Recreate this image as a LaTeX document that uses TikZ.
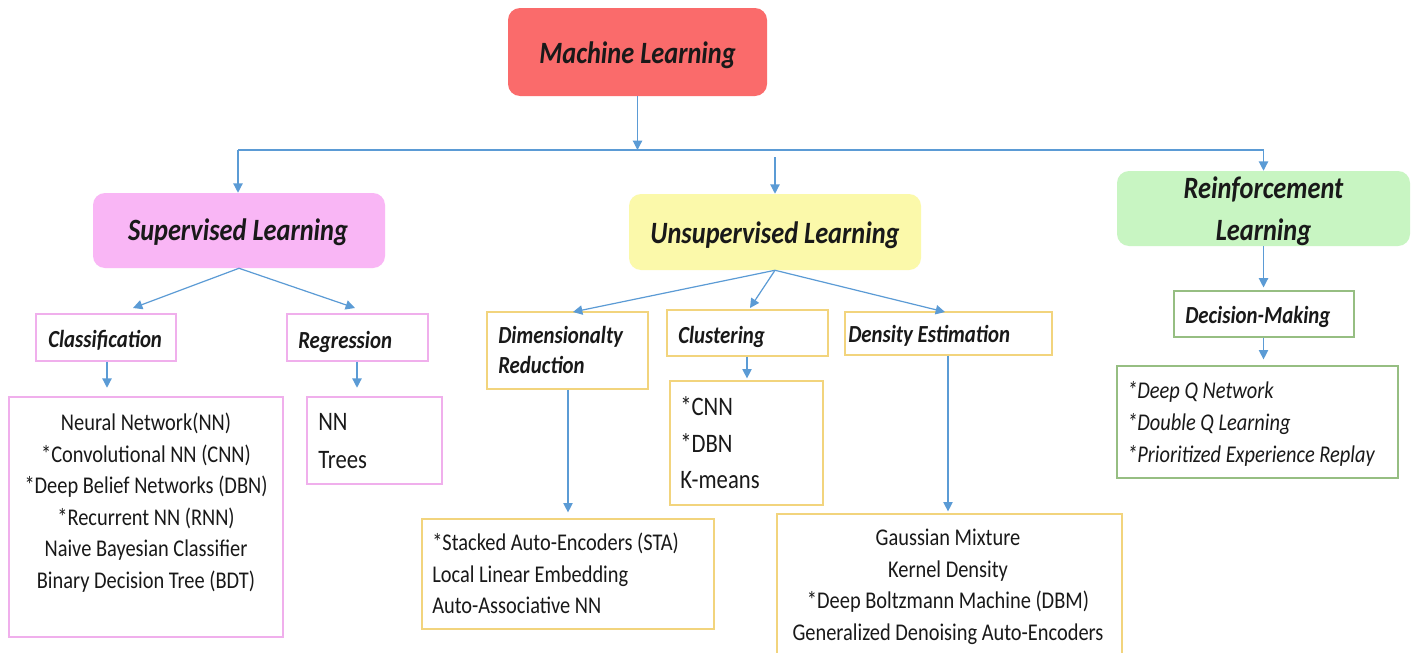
\documentclass[tikz,border=0pt]{standalone}
\usepackage{fontspec}
\setmainfont{Carlito}[FakeStretch=0.85]
\usetikzlibrary{arrows.meta,fit}
\newcommand{\myfs}[1]{\fontsize{#1}{#1}\selectfont}
\definecolor{arrc}{RGB}{91,155,213}
\definecolor{mlfill}{RGB}{250,107,107}
\definecolor{supfill}{RGB}{249,182,245}
\definecolor{unsfill}{RGB}{251,249,170}
\definecolor{rlfill}{RGB}{200,245,194}
\definecolor{supline}{RGB}{240,175,236}
\definecolor{unsline}{RGB}{242,212,125}
\definecolor{rlline}{RGB}{150,190,130}
\definecolor{txt}{RGB}{25,25,25}
\tikzset{
  arr/.style={draw=arrc, line width=0.9pt, -{Triangle[width=7pt,length=7pt]}},
  ln/.style={draw=arrc, line width=0.9pt},
  mainbox/.style={rounded corners=9pt, inner sep=0pt},
  hd/.style={inner sep=0pt, text=txt, font=\myfs{23.25}\bfseries\itshape, anchor=base},
  subbox/.style={draw, line width=0.9pt, inner sep=0pt, fill=white},
  ttl/.style={inner sep=0pt, text=txt, font=\myfs{18.4}\bfseries\itshape, anchor=base west},
  itm/.style={inner sep=0pt, text=txt, font=\myfs{18}, anchor=base},
  itml/.style={inner sep=0pt, text=txt, font=\myfs{18}, anchor=base west},
  itmb/.style={inner sep=0pt, text=txt, font=\myfs{20}, anchor=base west},
  itmi/.style={inner sep=0pt, text=txt, font=\myfs{18}\itshape, anchor=base west},
}
\begin{document}
\begin{tikzpicture}[x=0.75pt,y=-0.75pt]
\useasboundingbox (0,0) rectangle (1414,653);
\fill[white] (0,0) rectangle (1414,653);
% main boxes
\node[mainbox, fill=mlfill, fit={(508,8) (767,96)}] (ml) {};
\node[mainbox, fill=supfill, fit={(93,193) (385,268)}] (sup) {};
\node[mainbox, fill=unsfill, fit={(629,194) (921,270)}] (uns) {};
\node[mainbox, fill=rlfill, fit={(1117,171) (1410,246)}] (rl) {};
\node[hd] (mlt) at (637.5,63) {Machine Learning};
\node[hd] (supt) at (238,240) {Supervised Learning};
\node[hd] (unst) at (775,243) {Unsupervised Learning};
\node[hd] (rlt1) at (1263.5,198) {Reinforcement};
\node[hd] (rlt2) at (1263.5,240) {Learning};
% sub boxes
\node[subbox, draw=supline, fit={(36,314) (176,361)}] (cls) {};
\node[subbox, draw=supline, fit={(287,314) (428,361)}] (reg) {};
\node[subbox, draw=supline, fit={(9,397) (283,637)}] (clsl) {};
\node[subbox, draw=supline, fit={(307,397) (442,484)}] (regl) {};
\node[subbox, draw=unsline, fit={(487,312) (648,389)}] (dim) {};
\node[subbox, draw=unsline, fit={(667,310) (828,356)}] (clu) {};
\node[subbox, draw=unsline, fit={(845,312) (1052,355)}] (den) {};
\node[subbox, draw=unsline, fit={(422,519) (714,629)}] (diml) {};
\node[subbox, draw=unsline, fit={(670,381) (823,505)}] (clul) {};
\node[subbox, draw=unsline, fit={(777,514) (1122,660)}] (denl) {};
\node[subbox, draw=rlline, fit={(1174,291) (1354,337)}] (dm) {};
\node[subbox, draw=rlline, fit={(1117,366) (1398,478)}] (rll) {};
% titles
\node[ttl] (clst) at (48,347) {Classification};
\node[ttl] (regt) at (298,348) {Regression};
\node[ttl] (dimt1) at (498,343) {Dimensionalty};
\node[ttl] (dimt2) at (498,373) {Reduction};
\node[ttl] (clut) at (678,343) {Clustering};
\node[ttl] (dent) at (848,342) {Density Estimation};
\node[ttl] (dmt) at (1185,323) {Decision-Making};
% classification list
\node[itm] (c1) at (146,430) {Neural Network(NN)};
\node[itm] (c2) at (146,462) {*Convolutional NN (CNN)};
\node[itm] (c3) at (146,493) {*Deep Belief Networks (DBN)};
\node[itm] (c4) at (146,525) {*Recurrent NN (RNN)};
\node[itm] (c5) at (146,556) {Naive Bayesian Classifier};
\node[itm] (c6) at (146,588) {Binary Decision Tree (BDT)};
% regression list
\node[itmb] (r1) at (318,430) {NN};
\node[itmb] (r2) at (318,468) {Trees};
% dimensionality list
\node[itml] (d1) at (432,550) {*Stacked Auto-Encoders (STA)};
\node[itml] (d2) at (432,582) {Local Linear Embedding};
\node[itml] (d3) at (432,613) {Auto-Associative NN};
% clustering list
\node[itmb] (k1) at (680,415) {*CNN};
\node[itmb] (k2) at (680,452) {*DBN};
\node[itmb] (k3) at (680,488) {K-means};
% density list
\node[itm] (e1) at (948,545) {Gaussian Mixture};
\node[itm] (e2) at (948,577) {Kernel Density};
\node[itm] (e3) at (948,608) {*Deep Boltzmann Machine (DBM)};
\node[itm] (e4) at (948,640) {Generalized Denoising Auto-Encoders};
% RL list
\node[itmi] (q1) at (1127,398) {*Deep Q Network};
\node[itmi] (q2) at (1127,430) {*Double Q Learning};
\node[itmi] (q3) at (1127,462) {*Prioritized Experience Replay};
% connector coordinates
\coordinate (jL) at (238,150);
\coordinate (jM) at (637.5,150);
\coordinate (jR) at (1263.5,150);
\coordinate (uS) at (775,157);
\coordinate (tCls) at (133,308);
\coordinate (tReg) at (355,308);
\coordinate (tDim) at (573,312);
\coordinate (tClu) at (750,308);
\coordinate (tDen) at (945,312);
\coordinate (xCls) at (107,0);
\coordinate (xReg) at (357,0);
\coordinate (xDim) at (568,0);
\coordinate (xClu) at (747,0);
\coordinate (xDen) at (948,0);
\coordinate (xRl) at (1263.5,0);
% connectors
\draw[arr] (ml.south) -- (jM);
\draw[ln] (jL) -- (jR);
\draw[arr] (jL) -- (sup.north -| jL);
\draw[arr] (jR) -- (rl.north);
\draw[arr] (uS) -- (uns.north);
\draw[arr] (sup.south) -- (tCls);
\draw[arr] (sup.south) -- (tReg);
\draw[arr] (uns.south) -- (tDim);
\draw[arr] (uns.south) -- (tClu);
\draw[arr] (uns.south) -- (tDen);
\draw[arr, shorten >=6.5pt] (cls.south -| xCls) -- (clsl.north -| xCls);
\draw[arr, shorten >=6.5pt] (reg.south -| xReg) -- (regl.north -| xReg);
\draw[arr, shorten >=4.5pt] (dim.south -| xDim) -- (diml.north -| xDim);
\draw[arr, shorten >=1.5pt] (clu.south -| xClu) -- (clul.north -| xClu);
\draw[arr, shorten >=1.5pt] (den.south -| xDen) -- (denl.north -| xDen);
\draw[arr, shorten >=2.2pt] (rl.south) -- (dm.north -| xRl);
\draw[arr, shorten >=4.5pt] (dm.south -| xRl) -- (rll.north -| xRl);
\end{tikzpicture}
\end{document}
